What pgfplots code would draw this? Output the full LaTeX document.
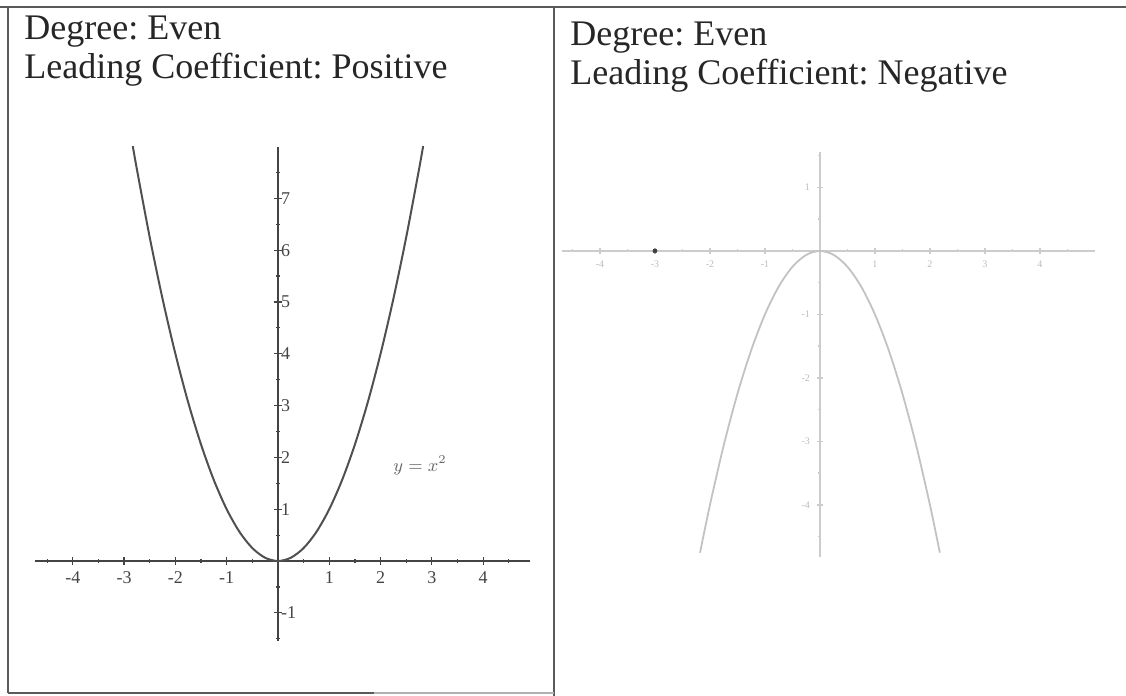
\documentclass[border=0pt]{standalone}
\usepackage{fontspec}
\setmainfont{Liberation Serif}
\usepackage{pgfplots}
\pgfplotsset{compat=1.18}
\frenchspacing

\definecolor{inkdark}{HTML}{444444}
\definecolor{curvedark}{HTML}{505050}
\definecolor{framecol}{HTML}{5A5A5A}
\definecolor{framelight}{HTML}{B0B0B0}
\definecolor{paleaxis}{HTML}{CCCCCC}
\definecolor{palecurve}{HTML}{C2C2C2}
\definecolor{palelabel}{HTML}{BBBBBB}

% y = x^2 sampled on [-2.83, 2.83]
\pgfplotstableread{
x y
-2.83 8.0089
-2.75 7.5625
-2.5 6.25
-2.25 5.0625
-2 4
-1.75 3.0625
-1.5 2.25
-1.25 1.5625
-1 1
-0.75 0.5625
-0.5 0.25
-0.25 0.0625
0 0
0.25 0.0625
0.5 0.25
0.75 0.5625
1 1
1.25 1.5625
1.5 2.25
1.75 3.0625
2 4
2.25 5.0625
2.5 6.25
2.75 7.5625
2.83 8.0089
}\posdata

% y = -x^2 sampled on [-2.18, 2.18]
\pgfplotstableread{
x y
-2.18 -4.7524
-2 -4
-1.75 -3.0625
-1.5 -2.25
-1.25 -1.5625
-1 -1
-0.75 -0.5625
-0.5 -0.25
-0.25 -0.0625
0 0
0.25 -0.0625
0.5 -0.25
0.75 -0.5625
1 -1
1.25 -1.5625
1.5 -2.25
1.75 -3.0625
2 -4
2.18 -4.7524
}\negdata

\begin{document}
\begin{tikzpicture}
\useasboundingbox (0,0) rectangle (563pt,348pt);

% table frame
\draw[framecol, line width=1pt] (0pt,344.5pt) -- (563pt,344.5pt);
\draw[framecol, line width=1pt] (4pt,344.5pt) -- (4pt,1.5pt);
\draw[framecol, line width=1pt] (277pt,344.5pt) -- (277pt,0pt);
\draw[framecol, line width=1pt] (4pt,1.5pt) -- (187pt,1.5pt);
\draw[framelight, line width=0.6pt] (187pt,1.5pt) -- (277pt,1.5pt);

% headings
\node[anchor=base west, inner sep=0pt, text=black!85, font=\fontsize{18}{19.5}\selectfont]
  at (12pt,328pt) {Degree: Even};
\node[anchor=base west, inner sep=0pt, text=black!85, font=\fontsize{18}{19.5}\selectfont]
  at (12pt,308.5pt) {Leading Coefficient: Positive};
\node[anchor=base west, inner sep=0pt, text=black!85, font=\fontsize{18}{19.5}\selectfont]
  at (285pt,325pt) {Degree: Even};
\node[anchor=base west, inner sep=0pt, text=black!85, font=\fontsize{18}{19.5}\selectfont]
  at (285pt,305.5pt) {Leading Coefficient: Negative};

% positive leading coefficient
\begin{axis}[
  at={(17.4pt,27.35pt)}, anchor=south west,
  x=25.65pt, y=25.9pt,
  xmin=-4.74, xmax=4.91, ymin=-1.55, ymax=8.0,
  axis lines=middle,
  axis line style={-, draw=inkdark, line width=0.8pt},
  xtick={-4,-3,-2,-1,1,2,3,4},
  ytick={-1,1,2,3,4,5,6,7},
  minor xtick={-4.5,-3.5,...,4.5},
  minor ytick={-1.5,-0.5,...,7.5},
  tick align=center,
  major tick length=4pt, minor tick length=2pt,
  tick style={draw=inkdark, line width=0.6pt},
  /pgf/number format/assume math mode=true,
  xticklabel style={font=\fontsize{9}{9}\selectfont, text=inkdark},
  yticklabel style={anchor=west, font=\fontsize{9}{9}\selectfont, text=inkdark},
  clip=false,
]
\addplot[curvedark, line width=1pt, smooth] table {\posdata};
\node[text=black!60, font=\fontsize{9}{9}\selectfont] at (axis cs:2.77,1.85) {$y = x^2$};
\end{axis}

% negative leading coefficient
\begin{axis}[
  at={(281pt,69.5pt)}, anchor=south west,
  x=27.5pt, y=31.75pt,
  xmin=-4.69, xmax=5.0, ymin=-4.82, ymax=1.56,
  axis lines=middle,
  axis line style={-, draw=paleaxis, line width=1pt},
  xtick={-4,-3,-2,-1,1,2,3,4},
  ytick={-4,-3,-2,-1,1},
  minor xtick={-4.5,-3.5,...,4.5},
  minor ytick={-4.5,-3.5,...,1.5},
  tick align=center,
  major tick length=3pt, minor tick length=1.5pt,
  tick style={draw=paleaxis, line width=0.7pt},
  /pgf/number format/assume math mode=true,
  xticklabel style={font=\fontsize{5}{5}\selectfont, text=palelabel},
  yticklabel style={font=\fontsize{5}{5}\selectfont, text=palelabel},
  clip=false,
]
\addplot[palecurve, line width=0.9pt, smooth] table {\negdata};
\addplot[only marks, mark=*, mark size=1pt, color=black!75] coordinates {(-3,0)};
\end{axis}
\end{tikzpicture}
\end{document}
